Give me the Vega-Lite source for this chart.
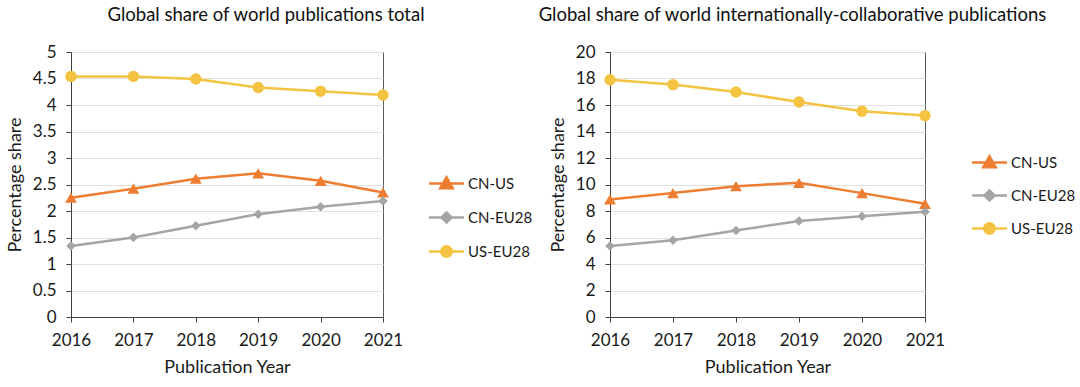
{
  "$schema": "https://vega.github.io/schema/vega-lite/v6.json",
  "background": "white",
  "padding": {"left": 5, "top": 5, "right": 5, "bottom": 5},
  "spacing": 3,
  "config": {
    "font": "Lato",
    "view": {"stroke": "#595959", "strokeWidth": 1},
    "title": {"fontSize": 18.5, "fontWeight": "normal", "color": "#111111", "font": "Lato"},
    "axis": {
      "labelFont": "Lato", "titleFont": "Lato",
      "labelFontSize": 17, "titleFontSize": 18, "titleFontWeight": "normal",
      "labelColor": "#1a1a1a", "titleColor": "#1a1a1a",
      "domainColor": "#404040", "tickColor": "#404040", "tickSize": 5
    },
    "axisY": {"grid": true, "gridColor": "#E0E0E0", "labelPadding": 10, "titlePadding": 8},
    "axisX": {"grid": false, "labelAngle": 0, "labelPadding": 10, "titlePadding": 10},
    "legend": {
      "labelFont": "Lato", "labelFontSize": 15, "labelColor": "#1a1a1a",
      "symbolType": {"expr": "datum.value === 'CN-US' ? 'M-3.5,0H3.5M0,-1.25L1.25,0.95L-1.25,0.95Z' : datum.value === 'CN-EU28' ? 'M-3.5,0H3.5M0,-1L1,0L0,1L-1,0Z' : 'M-3.5,0H3.5M1.05,0A1.05,1.05,0,1,1,-1.05,0A1.05,1.05,0,1,1,1.05,0Z'"},
      "symbolStrokeColor": {"expr": "datum.value === 'CN-US' ? '#ED7D31' : datum.value === 'CN-EU28' ? '#A5A5A5' : '#F5C342'"},
      "symbolFillColor": {"expr": "datum.value === 'CN-US' ? '#ED7D31' : datum.value === 'CN-EU28' ? '#A5A5A5' : '#F5C342'"},
      "symbolStrokeWidth": 2.5,
      "symbolOpacity": 1
    }
  },
  "resolve": {"scale": {"color": "independent"}, "legend": {"color": "independent"}},
  "datasets": {
    "total": [
      {"year": "2016", "series": "CN-US", "value": 2.25},
      {"year": "2017", "series": "CN-US", "value": 2.42},
      {"year": "2018", "series": "CN-US", "value": 2.61},
      {"year": "2019", "series": "CN-US", "value": 2.71},
      {"year": "2020", "series": "CN-US", "value": 2.57},
      {"year": "2021", "series": "CN-US", "value": 2.35},
      {"year": "2016", "series": "CN-EU28", "value": 1.34},
      {"year": "2017", "series": "CN-EU28", "value": 1.50},
      {"year": "2018", "series": "CN-EU28", "value": 1.72},
      {"year": "2019", "series": "CN-EU28", "value": 1.94},
      {"year": "2020", "series": "CN-EU28", "value": 2.08},
      {"year": "2021", "series": "CN-EU28", "value": 2.19},
      {"year": "2016", "series": "US-EU28", "value": 4.54},
      {"year": "2017", "series": "US-EU28", "value": 4.54},
      {"year": "2018", "series": "US-EU28", "value": 4.49},
      {"year": "2019", "series": "US-EU28", "value": 4.33},
      {"year": "2020", "series": "US-EU28", "value": 4.26},
      {"year": "2021", "series": "US-EU28", "value": 4.19}
    ],
    "collab": [
      {"year": "2016", "series": "CN-US", "value": 8.87},
      {"year": "2017", "series": "CN-US", "value": 9.35},
      {"year": "2018", "series": "CN-US", "value": 9.87},
      {"year": "2019", "series": "CN-US", "value": 10.13},
      {"year": "2020", "series": "CN-US", "value": 9.35},
      {"year": "2021", "series": "CN-US", "value": 8.54},
      {"year": "2016", "series": "CN-EU28", "value": 5.35},
      {"year": "2017", "series": "CN-EU28", "value": 5.80},
      {"year": "2018", "series": "CN-EU28", "value": 6.53},
      {"year": "2019", "series": "CN-EU28", "value": 7.24},
      {"year": "2020", "series": "CN-EU28", "value": 7.61},
      {"year": "2021", "series": "CN-EU28", "value": 7.94},
      {"year": "2016", "series": "US-EU28", "value": 17.91},
      {"year": "2017", "series": "US-EU28", "value": 17.54},
      {"year": "2018", "series": "US-EU28", "value": 16.98},
      {"year": "2019", "series": "US-EU28", "value": 16.23},
      {"year": "2020", "series": "US-EU28", "value": 15.53},
      {"year": "2021", "series": "US-EU28", "value": 15.20}
    ]
  },
  "hconcat": [
    {
      "width": 312,
      "height": 265,
      "title": {"text": "Global share of world publications total", "dx": 39, "offset": 19},
      "data": {"name": "total"},
      "encoding": {
        "x": {"field": "year", "type": "ordinal", "scale": {"type": "point", "padding": 0}, "axis": {"title": "Publication Year"}},
        "y": {"field": "value", "type": "quantitative", "scale": {"domain": [0, 5]}, "axis": {"title": "Percentage share", "format": ".1~f", "values": [0, 0.5, 1, 1.5, 2, 2.5, 3, 3.5, 4, 4.5, 5]}},
        "color": {
          "field": "series", "type": "nominal",
          "scale": {"domain": ["CN-US", "CN-EU28", "US-EU28"], "range": ["#ED7D31", "#A5A5A5", "#F5C342"]},
          "legend": {"title": null, "orient": "none", "legendX": 368, "legendY": 124, "symbolSize": 100, "labelOffset": 14, "rowPadding": 13}
        }
      },
      "layer": [
        {"mark": {"type": "line", "strokeWidth": 2.5}},
        {"transform": [{"filter": "datum.series === 'CN-US'"}], "mark": {"type": "point", "filled": true, "opacity": 1, "shape": "triangle-up", "size": 140}},
        {"transform": [{"filter": "datum.series === 'CN-EU28'"}], "mark": {"type": "point", "filled": true, "opacity": 1, "shape": "diamond", "size": 90}},
        {"transform": [{"filter": "datum.series === 'US-EU28'"}], "mark": {"type": "point", "filled": true, "opacity": 1, "shape": "circle", "size": 130}}
      ]
    },
    {
      "width": 315,
      "height": 265,
      "title": {"text": "Global share of world internationally-collaborative publications", "dx": 25, "offset": 19},
      "data": {"name": "collab"},
      "encoding": {
        "x": {"field": "year", "type": "ordinal", "scale": {"type": "point", "padding": 0}, "axis": {"title": "Publication Year"}},
        "y": {"field": "value", "type": "quantitative", "scale": {"domain": [0, 20]}, "axis": {"title": "Percentage share", "format": "d", "values": [0, 2, 4, 6, 8, 10, 12, 14, 16, 18, 20]}},
        "color": {
          "field": "series", "type": "nominal",
          "scale": {"domain": ["CN-US", "CN-EU28", "US-EU28"], "range": ["#ED7D31", "#A5A5A5", "#F5C342"]},
          "legend": {"title": null, "orient": "none", "legendX": 372, "legendY": 103, "symbolSize": 100, "labelOffset": 14, "rowPadding": 12}
        }
      },
      "layer": [
        {"mark": {"type": "line", "strokeWidth": 2.5}},
        {"transform": [{"filter": "datum.series === 'CN-US'"}], "mark": {"type": "point", "filled": true, "opacity": 1, "shape": "triangle-up", "size": 140}},
        {"transform": [{"filter": "datum.series === 'CN-EU28'"}], "mark": {"type": "point", "filled": true, "opacity": 1, "shape": "diamond", "size": 90}},
        {"transform": [{"filter": "datum.series === 'US-EU28'"}], "mark": {"type": "point", "filled": true, "opacity": 1, "shape": "circle", "size": 130}}
      ]
    }
  ]
}
